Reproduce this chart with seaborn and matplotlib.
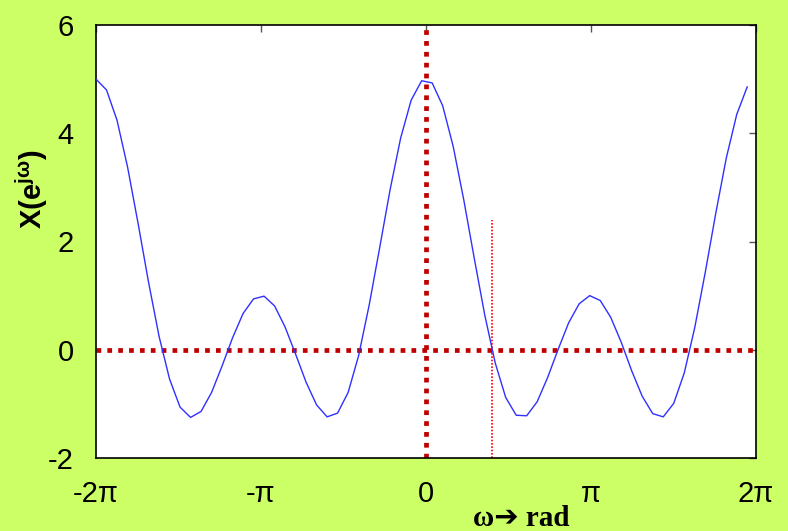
import numpy as np
import matplotlib
matplotlib.use("Agg")
import matplotlib.pyplot as plt
import seaborn as sns

# frequency samples (rad), step 0.2 starting at -2*pi
omega = [-6.283, -6.083, -5.883, -5.683, -5.483, -5.283, -5.083, -4.883, -4.683,
         -4.483, -4.283, -4.083, -3.883, -3.683, -3.483, -3.283, -3.083, -2.883,
         -2.683, -2.483, -2.283, -2.083, -1.883, -1.683, -1.483, -1.283, -1.083,
         -0.883, -0.683, -0.483, -0.283, -0.083, 0.117, 0.317, 0.517, 0.717,
         0.917, 1.117, 1.317, 1.517, 1.717, 1.917, 2.117, 2.317, 2.517, 2.717,
         2.917, 3.117, 3.317, 3.517, 3.717, 3.917, 4.117, 4.317, 4.517, 4.717,
         4.917, 5.117, 5.317, 5.517, 5.717, 5.917, 6.117]

# spectrum magnitude
X_mag = [5.00, 4.80, 4.24, 3.38, 2.34, 1.25, 0.25, -0.54, -1.06, -1.25, -1.14,
         -0.79, -0.30, 0.22, 0.67, 0.94, 0.99, 0.81, 0.42, -0.08, -0.60, -1.02,
         -1.24, -1.17, -0.79, -0.11, 0.82, 1.88, 2.96, 3.91, 4.61, 4.97, 4.93,
         4.51, 3.76, 2.78, 1.70, 0.65, -0.24, -0.88, -1.21, -1.22, -0.96, -0.51,
         0.01, 0.50, 0.85, 1.00, 0.91, 0.60, 0.14, -0.39, -0.86, -1.18, -1.24,
         -0.99, -0.43, 0.41, 1.43, 2.52, 3.54, 4.35, 4.86]

xticks = [-2 * np.pi, -np.pi, 0, np.pi, 2 * np.pi]
xtick_labels = ["-2π", "-π", "0", "π", "2π"]
yticks = [-2, 0, 2, 4, 6]

zero_cross = 0.4 * np.pi   # first null of the main lobe
marker_top = 2.4

sns.set_style("white")
plt.rcParams["font.family"] = ["Liberation Sans", "DejaVu Sans"]
plt.rcParams["axes.unicode_minus"] = False
plt.rcParams["text.color"] = "black"
plt.rcParams["axes.labelcolor"] = "black"
plt.rcParams["xtick.labelcolor"] = "black"
plt.rcParams["ytick.labelcolor"] = "black"
plt.rcParams["mathtext.fontset"] = "custom"
plt.rcParams["mathtext.rm"] = "Liberation Sans"
plt.rcParams["mathtext.bf"] = "Liberation Sans:bold"

bg = "#ccff66"
fig = plt.figure(figsize=(7.88, 5.31), dpi=100, facecolor=bg)
ax = fig.add_axes([96 / 788, 1 - 458 / 531, 660 / 788, 433 / 531])
ax.set_facecolor("white")

# axis reference lines
ax.axhline(0, color="#c00000", lw=3.4, ls=(0, (1, 1.3)), zorder=1)
ax.axvline(0, color="#c00000", lw=3.4, ls=(0, (1, 1.3)), zorder=1)
ax.vlines(zero_cross, -2, marker_top, color="red", lw=1.2, ls=(0, (1, 1)), zorder=1)

sns.lineplot(x=omega, y=X_mag, ax=ax, color="#3030ff", lw=1.0,
             sort=False, estimator=None, zorder=3)

ax.set_xlim(-2 * np.pi, 2 * np.pi)
ax.set_ylim(-2, 6)
ax.set_xticks(xticks)
ax.set_xticklabels(xtick_labels)
ax.set_yticks(yticks)
ax.tick_params(axis="both", direction="in", length=5, width=1, color="#555555",
               labelsize=21, top=True, right=True)
ax.tick_params(axis="x", pad=16)
ax.tick_params(axis="y", pad=16)

for s in ax.spines.values():
    s.set_color("black")
    s.set_linewidth(1.2)

ax.set_ylabel(r"$\mathbf{X(e^{j\omega})}$", fontsize=21)
ax.yaxis.set_label_coords(-0.07, 0.62)
ax.set_xlabel("ω➔ rad", fontsize=21, fontweight="bold",
              family=["Liberation Serif", "DejaVu Sans"])
ax.xaxis.set_label_coords(0.644, -0.108)

fig.savefig("out.png", dpi=100, facecolor=bg)
